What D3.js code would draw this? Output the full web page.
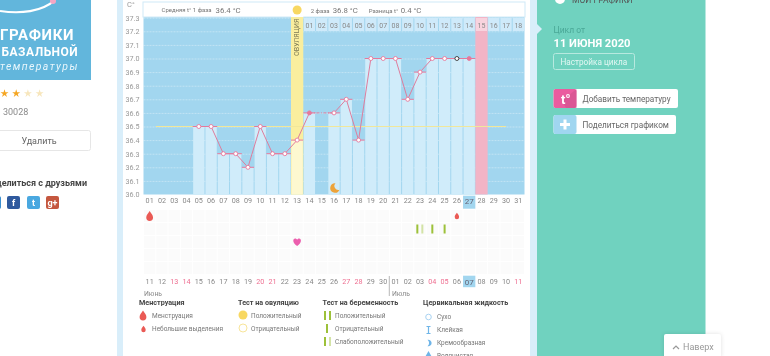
<!DOCTYPE html>
<html lang="ru">
<head>
<meta charset="UTF-8">
<title>График базальной температуры</title>
<script src="https://cdnjs.cloudflare.com/ajax/libs/d3/7.8.5/d3.min.js"></script>
<style>
   html, body { margin: 0; background: #fff; overflow: hidden; }
   svg { display: block; filter: blur(0.35px); }
   text { font-family: Roboto, "Noto Sans", sans-serif; fill: #777; }
   .domain { display: none; }
   .bold { font-weight: 700; fill: #444; }
</style>
</head>
<body>
<svg id="page" width="770" height="356"></svg>
<script>
// chart data
const cols = ['01','02','03','04','05','06','07','08','09','10','11','12','13','14','15','16','17','18','19','20','21','22','23','24','25','26','27','28','29','30','31']
const temps = [null,null,null,null,36.5,36.5,36.3,36.3,36.2,36.5,36.3,36.3,36.4,36.6,null,36.6,36.7,36.4,37.0,37.0,37.0,36.7,36.9,37.0,37.0,37.0,37.0,null,null,null,null]
const tempTicks = [36.0,36.1,36.2,36.3,36.4,36.5,36.6,36.7,36.8,36.9,37.0,37.1,37.2,37.3]
const coverLine = 36.5
const phaseCols = ['14','15','16','17','18','19','20','21','22','23','24','25','26','27','28','29','30','31']
const phaseLabels = ['01','02','03','04','05','06','07','08','09','10','11','12','13','14','15','16','17','18']
const dates = ['11','12','13','14','15','16','17','18','19','20','21','22','23','24','25','26','27','28','29','30','01','02','03','04','05','06','07','08','09','10','11']
const weekendCols = ['03','04','10','11','17','18','24','25','31']
const calendarRows = ['bleeding','tests','intimacy','row4','row5']
const ovulationCol = '13'
const expectedCol = '28'
const todayCol = '27'
const moonCol = '16'
const bleedingCols = ['01']
const spottingCols = ['26']
const faintTestCols = ['23']
const singleTestCols = ['24','25']
const heartCols = ['13']
const filledMarkerCols = ['14','27']
const todayMarkerCols = ['26']

const DROP = 'M0,-5C1.5,-2.6 3.4,-1 3.4,1.5A3.4,3.4 0 0 1 -3.4,1.5C-3.4,-1 -1.5,-2.6 0,-5Z'
const HEART = 'M0,4C-5,0.6 -4.4,-3.6 -2,-3.6C-1,-3.6 -0.3,-3 0,-2.2C0.3,-3 1,-3.6 2,-3.6C4.4,-3.6 5,0.6 0,4Z'
const MOON = 'M1,-4.8A4.8,4.8 0 1 0 5,1.8A4,4 0 0 1 1,-4.8Z'

const svg = d3.select('#page')
const label = (g, s, x, y, size, color, cls) => g.append('text').text(s)
   .attr('x', x).attr('y', y).attr('font-size', size)
   .attr('class', cls || null)
   .style('fill', color || null)

// page frame
svg.append('rect').attr('x', 117).attr('width', 420).attr('height', 356).attr('fill', '#d9eefa')
svg.append('rect').attr('x', 123).attr('width', 407).attr('height', 356).attr('fill', '#fff')

// left column
const left = svg.append('g')
left.append('rect').attr('width', 91).attr('height', 80).attr('fill', '#62b6dc')
left.append('path').attr('d', 'M0,11C20,14 42,12 55,0').attr('fill', 'none').attr('stroke', '#fff').attr('stroke-width', 2.2)
left.append('circle').attr('cx', 53).attr('cy', 1).attr('r', 3).attr('fill', '#f4a6c4')
label(left, 'ГРАФИКИ', 0, 39.5, 15, '#fff').attr('font-weight', 700).attr('letter-spacing', 0.6)
label(left, 'БАЗАЛЬНОЙ', 1.5, 55.5, 12, '#fff').attr('font-weight', 700).attr('letter-spacing', 0.5)
label(left, 'температуры', 0, 69.5, 10.5, '#e8f6fc').attr('font-style', 'italic').attr('letter-spacing', 1.4)
const stars = ['#f5a623','#f5a623','#f7e6bc','#f7e6bc']
left.selectAll('.star').data(stars).join('path')
   .attr('class', 'star')
   .attr('d', d3.symbol(d3.symbolStar, 20))
   .attr('transform', (d, i) => `translate(${4.5 + i * 11.7},93.5)`)
   .attr('fill', d => d)
label(left, '30028', 3, 114.5, 9, '#8a8a8a')
left.append('rect').attr('x', -4).attr('y', 130.5).attr('width', 94.5).attr('height', 20).attr('rx', 2)
   .attr('fill', '#fff').attr('stroke', '#e6e6e6')
label(left, 'Удалить', 39, 143.5, 9, '#666').attr('text-anchor', 'middle')
label(left, 'Поделиться с друзьями', 87, 186, 9, '#444', 'bold').attr('text-anchor', 'end')
const social = [[-12,'#3b8fd0',''],[7,'#2f5a9e','f'],[27,'#4aa8e0','t'],[46,'#c5573f','g+']]
social.forEach(s => {
   left.append('rect').attr('x', s[0]).attr('y', 196).attr('width', 13).attr('height', 13).attr('rx', 2).attr('fill', s[1])
   label(left, s[2], s[0] + 6.5, 206, 9, '#fff').attr('text-anchor', 'middle').attr('font-weight', 700)
})

// scales
const x = d3.scaleBand().domain(cols).range([143.5, 524.5])
const y = d3.scaleLinear().domain([36.0, 37.3]).range([194.5, 17.7])
const bw = x.bandwidth()
const cx = c => x(c) + bw / 2
const plotTop = 3
const headerBottom = 17
const plotBottom = y(36.0)

// plot background and header strip
svg.append('rect').attr('x', 143.5).attr('y', headerBottom).attr('width', 381).attr('height', plotBottom - headerBottom).attr('fill', '#a2d6ef')
svg.append('rect').attr('x', 143).attr('y', plotTop - 1).attr('width', 382).attr('height', headerBottom - plotTop + 1)
   .attr('fill', '#fff').attr('stroke', '#cfe9f7')

// grid and temperature axis
svg.append('g')
   .attr('transform', 'translate(143.5,0)')
   .call(d3.axisLeft(y).tickValues(tempTicks.slice(1)).tickSize(-381).tickFormat(''))
   .call(g => g.selectAll('line').attr('stroke', '#fff').attr('stroke-opacity', 0.35).attr('stroke-dasharray', '2 1'))
svg.append('g')
   .attr('transform', 'translate(139.5,0)')
   .call(d3.axisLeft(y).tickValues(tempTicks).tickSize(0).tickPadding(0).tickFormat(d3.format('.1f')))
   .call(g => g.selectAll('text').attr('font-size', 7.2).attr('font-family', null).style('fill', '#999'))
label(svg, 'C°', 127, 7, 7.5, '#999')

// bars
const barData = cols.map((c, i) => ({ col: c, t: temps[i] })).filter(d => d.t !== null)
svg.append('g').selectAll('rect').data(barData.filter(d => d.col !== ovulationCol)).join('rect')
   .attr('x', d => x(d.col) + 0.5)
   .attr('y', d => y(d.t))
   .attr('width', bw - 1)
   .attr('height', d => plotBottom - y(d.t))
   .attr('fill', '#d0ecfa')

// ovulation and expected period columns
svg.append('rect').attr('x', x(ovulationCol)).attr('y', headerBottom).attr('width', bw).attr('height', plotBottom - headerBottom).attr('fill', '#faee9e')
svg.append('rect').attr('x', x(ovulationCol) + 0.5).attr('y', y(temps[cols.indexOf(ovulationCol)])).attr('width', bw - 1)
   .attr('height', plotBottom - y(temps[cols.indexOf(ovulationCol)])).attr('fill', '#fdf8d0')
svg.append('rect').attr('x', x(expectedCol)).attr('y', headerBottom).attr('width', bw).attr('height', plotBottom - headerBottom).attr('fill', '#f2b4c6')
svg.append('rect').attr('x', x(ovulationCol)).attr('y', plotTop).attr('width', bw).attr('height', headerBottom - plotTop).attr('fill', '#fff')
svg.append('circle').attr('cx', cx(ovulationCol)).attr('cy', 10).attr('r', 4.5).attr('fill', '#f8d862')
svg.append('text').text('ОВУЛЯЦИЯ')
   .attr('transform', `translate(${cx(ovulationCol) + 2.3},56) rotate(-90)`)
   .attr('font-size', 7).style('fill', '#7d7a55')

// phase two day numbers
const phase = svg.append('g')
phase.selectAll('rect').data(phaseCols).join('rect')
   .attr('x', d => x(d) + 0.5).attr('y', 18).attr('width', bw - 1).attr('height', 13)
   .attr('fill', d => d === expectedCol ? '#f8d3de' : '#cfeafa')
phase.selectAll('text').data(phaseLabels).join('text')
   .text(d => d)
   .attr('x', (d, i) => cx(phaseCols[i]))
   .attr('y', 27.5)
   .attr('text-anchor', 'middle').attr('font-size', 7).style('fill', '#888')

// header summaries
label(svg, 'Средняя t° 1 фаза', 161.5, 12, 6, '#777')
label(svg, '36.4 °C', 215.5, 12.5, 7.8, '#777')
label(svg, '2 фаза', 310.7, 12.5, 6, '#777')
label(svg, '36.8 °C', 332.7, 12.5, 7.8, '#777')
label(svg, 'Разница t°', 368.7, 12.5, 6, '#777')
label(svg, '0.4 °C', 400.7, 12.5, 7.8, '#777')

// cover line
svg.append('line').attr('x1', x('02')).attr('x2', cx('30')).attr('y1', y(coverLine)).attr('y2', y(coverLine))
   .attr('stroke', '#f1e79a').attr('stroke-width', 1)

// temperature line: solid between neighbouring days, dash-dot over a missed day
const points = barData.map(d => ({ col: d.col, t: d.t, i: cols.indexOf(d.col) }))
const line = d3.line().x(d => cx(d.col)).y(d => y(d.t))
d3.pairs(points).forEach(([a, b]) => {
   svg.append('path').attr('d', line([a, b])).attr('fill', 'none').attr('stroke', '#de7d9d').attr('stroke-width', 1)
      .attr('stroke-dasharray', b.i - a.i > 1 ? '3 1.5 1 1.5' : null)
})
svg.append('g').selectAll('line').data(points).join('line')
   .attr('x1', d => x(d.col)).attr('x2', d => x(d.col) + bw)
   .attr('y1', d => y(d.t)).attr('y2', d => y(d.t))
   .attr('stroke', '#e5799c').attr('stroke-width', 1)
svg.append('g').selectAll('circle').data(points).join('circle')
   .attr('cx', d => cx(d.col)).attr('cy', d => y(d.t)).attr('r', 2)
   .attr('fill', d => filledMarkerCols.includes(d.col) ? '#e5799c' : '#fff')
   .attr('stroke', d => todayMarkerCols.includes(d.col) ? '#333' : '#e5799c')
   .attr('stroke-width', 0.9)
svg.append('path').attr('d', MOON)
   .attr('transform', `translate(${cx(moonCol) + 0.5},188)`)
   .attr('fill', '#eda33a')

// day numbers under the plot
const today = svg.append('g')
today.append('rect').attr('x', x(todayCol)).attr('y', 195.7).attr('width', bw).attr('height', 13).attr('fill', '#a2d6ef')
today.append('rect').attr('x', x(todayCol)).attr('y', 275.7).attr('width', bw).attr('height', 11.5).attr('fill', '#a2d6ef')
svg.append('g')
   .attr('transform', `translate(0,${plotBottom + 0.5})`)
   .call(d3.axisBottom(x).tickSize(0).tickPadding(3))
   .call(g => g.selectAll('text').attr('font-size', d => d === todayCol ? 8 : 7.2).attr('font-family', null).style('fill', d => d === todayCol ? '#667' : '#888'))

// calendar block
const rowY = d3.scaleBand().domain(calendarRows).range([209.5, 274.5])
const grid = svg.append('g')
calendarRows.forEach(r => {
   grid.selectAll(null).data(cols).join('rect')
      .attr('x', d => x(d) + 0.5).attr('y', rowY(r) + 0.5)
      .attr('width', bw - 1).attr('height', rowY.bandwidth() - 1)
      .attr('fill', '#fbfbfb')
})
svg.append('g')
   .attr('transform', 'translate(0,277.5)')
   .call(d3.axisBottom(x).tickSize(0).tickPadding(1.5).tickFormat((d, i) => dates[i]))
   .call(g => g.selectAll('text').attr('font-size', d => d === todayCol ? 8 : 7.2).attr('font-family', null)
      .style('fill', d => weekendCols.includes(d) ? '#ee6f91' : d === todayCol ? '#667' : '#888'))
svg.append('line').attr('x1', 389.3).attr('x2', 389.3).attr('y1', 276).attr('y2', 296).attr('stroke', '#999').attr('stroke-width', 0.7)
label(svg, 'Июнь', 144, 295.5, 6.8, '#888')
label(svg, 'Июль', 392, 295.5, 6.8, '#888')

// calendar marks
const markRow = r => rowY(r) + rowY.bandwidth() / 2
svg.append('g').selectAll('path').data(bleedingCols).join('path').attr('d', DROP)
   .attr('transform', d => `translate(${cx(d)},${markRow('bleeding')})`).attr('fill', '#ea5a55')
svg.append('g').selectAll('path').data(spottingCols).join('path').attr('d', DROP)
   .attr('transform', d => `translate(${cx(d)},${markRow('bleeding')}) scale(.65)`).attr('fill', '#ea5a55')
svg.append('g').selectAll('path').data(heartCols).join('path').attr('d', HEART)
   .attr('transform', d => `translate(${cx(d)},${markRow('intimacy')})`).attr('fill', '#ec5fae')
const testBar = (g, px, fill, top) => g.append('rect').attr('x', px - 1).attr('y', top).attr('width', 2).attr('height', 9).attr('fill', fill)
const GREEN = '#9dc13a', PALE = '#d3e3a6'
singleTestCols.forEach(c => testBar(svg, cx(c), GREEN, markRow('tests') - 4.5))
faintTestCols.forEach(c => {
   testBar(svg, cx(c) - 2.7, GREEN, markRow('tests') - 4.5)
   testBar(svg, cx(c) + 2.3, PALE, markRow('tests') - 4.5)
})

// legend
const legend = svg.append('g')
label(legend, 'Менструация', 139, 305, 7.2, '#444', 'bold')
legend.append('path').attr('d', DROP).attr('transform', 'translate(143,315.5)').attr('fill', '#ea5a55')
label(legend, 'Менструация', 152, 318, 6.5, '#777')
legend.append('path').attr('d', DROP).attr('transform', 'translate(143.5,329) scale(.65)').attr('fill', '#ea5a55')
label(legend, 'Небольшие выделения', 152, 331, 6.5, '#777')

label(legend, 'Тест на овуляцию', 238, 305, 7.2, '#444', 'bold')
legend.append('circle').attr('cx', 243).attr('cy', 315).attr('r', 4.5).attr('fill', '#f8d862')
label(legend, 'Положительный', 251, 318, 6.5, '#777')
legend.append('circle').attr('cx', 243).attr('cy', 328).attr('r', 4).attr('fill', '#fff').attr('stroke', '#f8e59a').attr('stroke-width', 1)
label(legend, 'Отрицательный', 251, 331, 6.5, '#777')

label(legend, 'Тест на беременность', 322.5, 305, 7.2, '#444', 'bold')
testBar(legend, 325, GREEN, 311)
testBar(legend, 330, GREEN, 311)
label(legend, 'Положительный', 335, 318, 6.5, '#777')
testBar(legend, 327, GREEN, 324)
label(legend, 'Отрицательный', 335, 331, 6.5, '#777')
testBar(legend, 325, GREEN, 337)
testBar(legend, 330, PALE, 337)
label(legend, 'Слабоположительный', 335, 344, 6.5, '#777')

label(legend, 'Цервикальная жидкость', 423, 305, 7.2, '#444', 'bold')
const BLUE = '#6fb5e8'
legend.append('circle').attr('cx', 428.5).attr('cy', 317).attr('r', 2.8).attr('fill', '#fff').attr('stroke', '#a9d3f2').attr('stroke-width', 1)
label(legend, 'Сухо', 437, 319, 6.5, '#777')
legend.append('path').attr('d', 'M-2,-3.5H2M0,-3.5V3.5M-2,3.5H2').attr('transform', 'translate(428.5,330)').attr('fill', 'none').attr('stroke', BLUE).attr('stroke-width', 1.2)
label(legend, 'Клейкая', 437, 332, 6.5, '#777')
legend.append('path').attr('d', 'M-1,-3.2A3.3,3.3 0 1 1 -1,3.2A4,4 0 0 0 -1,-3.2Z').attr('transform', 'translate(428.5,343)').attr('fill', BLUE)
label(legend, 'Кремообразная', 437, 345, 6.5, '#777')
legend.append('path').attr('d', 'M0,-4L4,3H-4Z').attr('transform', 'translate(428.5,355)').attr('fill', BLUE)
label(legend, 'Водянистая', 437, 358, 6.5, '#777')

// right panel
const right = svg.append('g')
right.append('rect').attr('x', 537).attr('width', 168.5).attr('height', 356).attr('fill', '#70d2bf')
right.append('path').attr('d', 'M537,24L542,29L537,34Z').attr('fill', '#d9eefa')
right.append('circle').attr('cx', 560).attr('cy', -1).attr('r', 5).attr('fill', '#fff')
label(right, 'МОИ ГРАФИКИ', 572, 3, 8.5, '#555')
label(right, 'Цикл от', 553.5, 33, 8.5, '#4aa897')
label(right, '11 ИЮНЯ 2020', 553.5, 47, 11.2, '#fff').attr('font-weight', 700)
right.append('rect').attr('x', 553.5).attr('y', 53.5).attr('width', 81).attr('height', 16).attr('rx', 2)
   .attr('fill', 'none').attr('stroke', '#b7e9df')
label(right, 'Настройка цикла', 560.5, 65, 8.2, '#e3f7f3')
right.append('rect').attr('x', 553.5).attr('y', 89).attr('width', 124.5).attr('height', 19).attr('rx', 2).attr('fill', '#fff')
right.append('rect').attr('x', 553.5).attr('y', 89).attr('width', 23).attr('height', 19).attr('rx', 2).attr('fill', '#ea5c9f')
right.append('path').attr('d', 'M562,101L576.5,89V108H566Z').attr('fill', '#c94f8a').attr('opacity', 0.5)
label(right, 't', 561, 103.5, 13, '#fff').attr('font-weight', 700)
label(right, 'o', 566, 98, 7, '#fff').attr('font-weight', 700)
label(right, 'Добавить температуру', 582.5, 101.5, 8.2, '#666')
right.append('rect').attr('x', 553.5).attr('y', 115).attr('width', 122.5).attr('height', 19).attr('rx', 2).attr('fill', '#fff')
right.append('rect').attr('x', 553.5).attr('y', 115).attr('width', 23).attr('height', 19).attr('rx', 2).attr('fill', '#a0d6f0')
right.append('path').attr('d', 'M565,119.5V129.5M560,124.5H570').attr('stroke', '#fff').attr('stroke-width', 3)
label(right, 'Поделиться графиком', 582.5, 127.5, 8.2, '#666')

// back to top
svg.append('rect').attr('x', 664).attr('y', 334).attr('width', 57).attr('height', 24).attr('rx', 2).attr('fill', '#fff')
   .style('filter', 'drop-shadow(0 0 2px rgba(0,0,0,.12))')
svg.append('path').attr('d', 'M673,349L676,346L679,349').attr('fill', 'none').attr('stroke', '#999').attr('stroke-width', 1.2)
label(svg, 'Наверх', 683, 350, 9, '#999')
</script>
</body>
</html>
